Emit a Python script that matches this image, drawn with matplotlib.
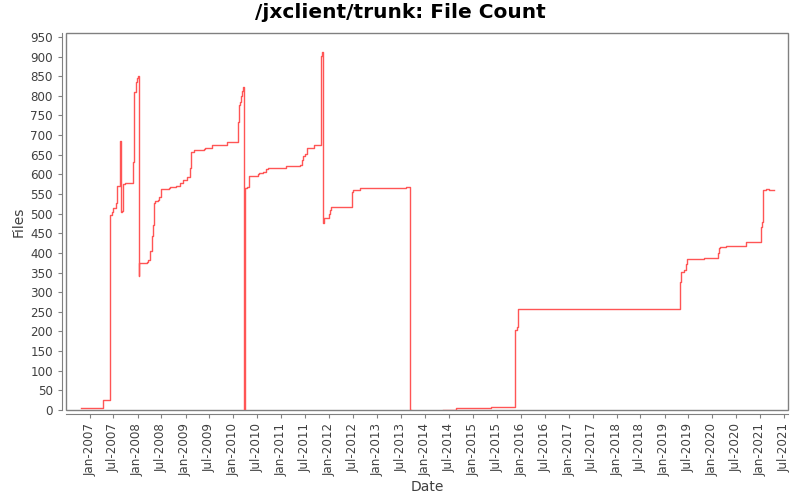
import numpy as np
import pandas as pd
import matplotlib
matplotlib.use('Agg')
import matplotlib.pyplot as plt
import matplotlib.dates as mdates
from matplotlib.patches import Rectangle

# File count history (step changes)
dates = [
    '2006-10-23', '2007-04-15', '2007-06-07', '2007-06-17', '2007-06-30',
    '2007-07-23', '2007-07-30', '2007-08-22', '2007-08-24', '2007-09-06',
    '2007-09-14', '2007-09-29', '2007-11-24', '2007-11-29', '2007-12-07',
    '2007-12-17', '2007-12-25', '2007-12-30', '2008-01-04', '2008-01-09',
    '2008-01-14', '2008-03-15', '2008-03-23', '2008-04-04', '2008-04-17',
    '2008-04-22', '2008-04-30', '2008-05-08', '2008-05-15', '2008-06-07',
    '2008-06-15', '2008-06-28', '2008-08-30', '2008-09-06', '2008-10-19',
    '2008-11-19', '2008-12-14', '2009-01-15', '2009-02-07', '2009-02-14',
    '2009-03-07', '2009-05-24', '2009-06-01', '2009-07-24', '2009-10-24',
    '2009-11-11', '2010-02-07', '2010-02-15', '2010-02-23', '2010-03-02',
    '2010-03-10', '2010-03-15', '2010-03-25', '2010-03-28', '2010-04-14',
    '2010-04-27', '2010-05-02', '2010-07-10', '2010-07-17', '2010-08-17',
    '2010-09-09', '2010-09-24', '2011-02-03', '2011-05-21', '2011-06-07',
    '2011-06-18', '2011-07-03', '2011-07-18', '2011-09-04', '2011-11-02',
    '2011-11-10', '2011-11-17', '2011-11-20', '2011-12-31', '2012-01-07',
    '2012-01-15', '2012-06-20', '2012-06-28', '2012-08-20', '2013-08-11',
    '2013-09-11', '2013-09-12', '2014-05-20', '2014-08-27', '2015-05-21',
    '2015-11-21', '2015-12-03', '2015-12-13', '2019-05-02', '2019-05-09',
    '2019-06-01', '2019-06-16', '2019-06-24', '2019-10-31', '2020-02-15',
    '2020-02-23', '2020-03-01', '2020-04-16', '2020-09-16', '2021-01-02',
    '2021-01-09', '2021-01-24', '2021-02-16', '2021-03-10', '2021-04-18',
]
files = [
    5, 25, 496, 504, 514,
    526, 570, 685, 505, 508,
    576, 578, 580, 631, 809,
    835, 837, 845, 851, 340,
    374, 376, 381, 406, 410,
    442, 470, 526, 531, 536,
    542, 562, 565, 568, 571,
    578, 585, 593, 615, 656,
    661, 664, 667, 674, 676,
    682, 733, 776, 785, 799,
    812, 822, 0, 565, 568,
    576, 595, 600, 603, 605,
    613, 615, 621, 623, 636,
    647, 653, 666, 674, 902,
    911, 475, 490, 498, 510,
    516, 555, 561, 565, 567,
    0, np.nan, 0, 5, 7,
    203, 212, 256, 325, 351,
    356, 371, 384, 386, 400,
    413, 414, 417, 427, 465,
    479, 560, 562, 560, 560,
]

x = pd.to_datetime(dates)

fig = plt.figure(figsize=(8, 5), dpi=100)
ax = fig.add_axes([66 / 800, 1 - 410 / 500, (788 - 66) / 800, (410 - 33) / 500])

ax.step(x, files, where='post', color='#FF5555', lw=1.0)

ax.set_xlim(pd.Timestamp('2006-07-04'), pd.Timestamp('2021-07-30'))
ax.set_ylim(0, 960)
ax.set_yticks(np.arange(0, 951, 50))

ax.xaxis.set_major_locator(mdates.MonthLocator(bymonth=[1, 7]))
ax.xaxis.set_major_formatter(mdates.DateFormatter('%b-%Y'))
ax.tick_params(axis='x', labelrotation=90)

# JFreeChart-like look: gray plot outline, axis lines offset outward
for s in ['top', 'right']:
    ax.spines[s].set_visible(False)
for s in ['left', 'bottom']:
    ax.spines[s].set_position(('outward', 3))
    ax.spines[s].set_color('#808080')
ax.add_patch(Rectangle((0, 0), 1, 1, transform=ax.transAxes, fill=False,
                       edgecolor='#808080', lw=1.0, clip_on=False, zorder=0))
ax.tick_params(colors='#808080', labelcolor='#404040', labelsize=8.6, length=3)

ax.set_xlabel('Date', fontsize=10, color='#404040', labelpad=3)
ax.set_ylabel('Files', fontsize=10, color='#404040', labelpad=3)
fig.text(0.5, 1 - 13 / 500, '/jxclient/trunk: File Count', fontsize=14.5,
         fontweight='bold', ha='center', va='center')

fig.savefig('out.png', dpi=100)
